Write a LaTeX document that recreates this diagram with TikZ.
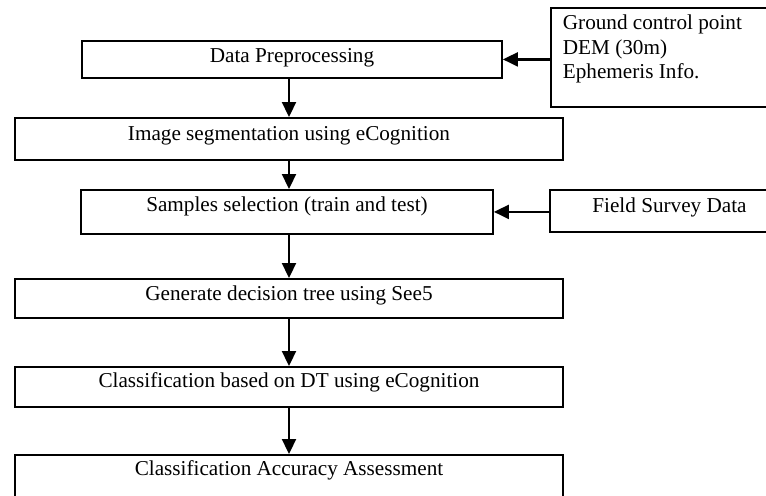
\documentclass[tikz,border=0pt]{standalone}
\usepackage{fontspec}
\setmainfont{Liberation Serif}
\usetikzlibrary{arrows.meta}
\begin{document}
	\begin{tikzpicture}
		[x=0.5pt,y=-0.5pt,
		stepbox/.style={draw,line width=0.9pt,inner sep=0pt,anchor=north,
			font=\fontsize{10.6}{12.25}\selectfont},
		wide/.style={minimum width=274pt},
		flow/.style={line width=1.1pt,-{Triangle[length=7.5pt,width=7pt]}}]
		\clip (0,0) rectangle (766,495);
		\node[stepbox,minimum width=210pt,text height=11pt,text depth=7.5pt] (dp) at (292,40) {Data Preprocessing};
		\node[stepbox,anchor=north west,inner xsep=6pt,text width=108pt,align=flush left,
			text height=11pt,text depth=38.5pt] (gcp) at (550,7)
			{Ground control point\\DEM (30m)\\Ephemeris Info.};
		\node[stepbox,wide,text height=11.5pt,text depth=9.5pt] (seg) at (289,117) {Image segmentation using eCognition};
		\node[stepbox,minimum width=206pt,text height=11pt,text depth=11pt] (samples) at (287,189) {Samples selection (train and test)};
		\node[stepbox,minimum width=119.5pt,text height=11.5pt,text depth=9.5pt] (fsd) at (669.5,189) {Field Survey Data};
		\node[stepbox,wide,text height=11pt,text depth=8.5pt] (gen) at (289,278) {Generate decision tree using See5};
		\node[stepbox,wide,text height=10.5pt,text depth=9.5pt] (cls) at (289,366) {Classification based on DT using eCognition};
		\node[stepbox,wide,text height=10.5pt,text depth=20pt] (acc) at (289,454) {Classification Accuracy Assessment};
		% inputs from the right
		\draw[flow] (gcp.west |- dp.east) -- (dp.east);
		\draw[flow] (fsd.west |- samples.east) -- (samples.east);
		% main flow
		\draw[flow] (dp.south -| seg.north) -- (seg.north);
		\draw[flow] (seg.south) -- (seg.south |- samples.north);
		\draw[flow] (samples.south -| gen.north) -- (gen.north);
		\draw[flow] (gen.south) -- (cls.north);
		\draw[flow] (cls.south) -- (acc.north);
	\end{tikzpicture}
\end{document}
